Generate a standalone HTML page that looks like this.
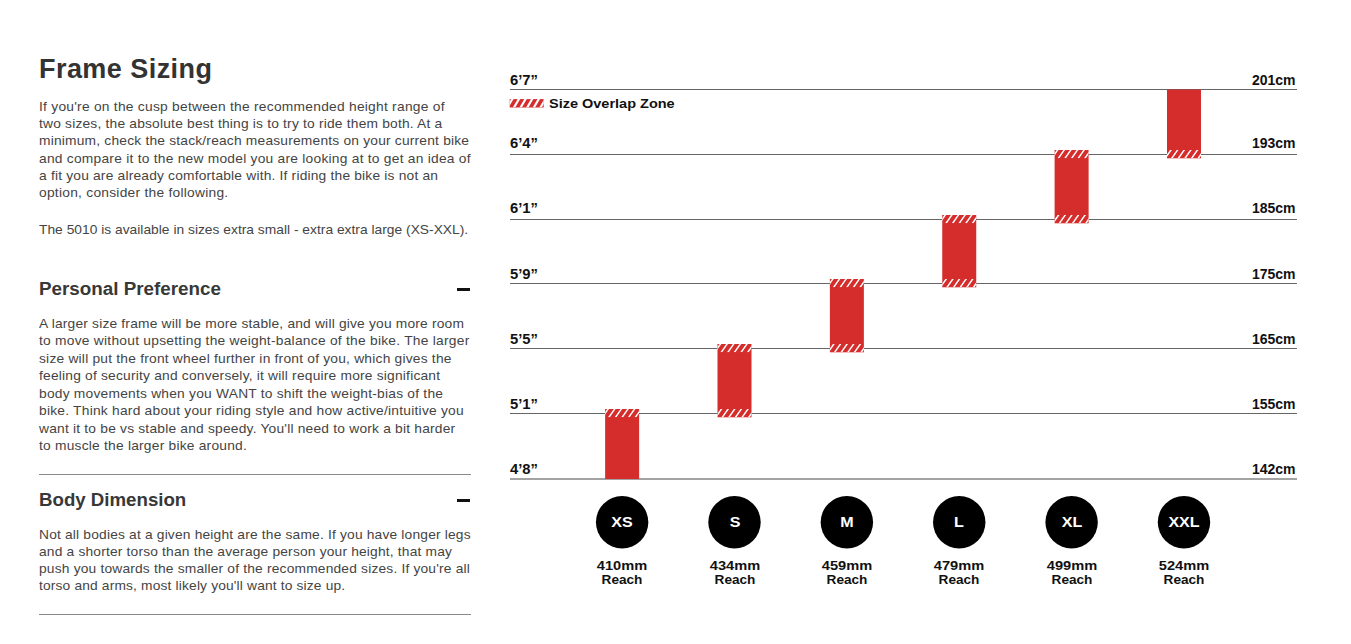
<!DOCTYPE html>
<html><head><meta charset="utf-8"><title>Frame Sizing</title>
<style>
html,body{margin:0;padding:0;background:#fff;width:1351px;height:644px;overflow:hidden}
body{position:relative;font-family:"Liberation Sans", sans-serif}
.t{position:absolute;white-space:nowrap}
</style></head><body>
<div class="t" style="left:39px;top:52.64px;font-size:27px;line-height:32.40px;font-weight:700;color:#333;letter-spacing:0.45px;">Frame Sizing</div><div class="t" style="left:39px;top:98.60px;font-size:13px;line-height:15.60px;font-weight:400;color:#444;letter-spacing:0.239px;transform:scaleX(1.06);transform-origin:0 0;">If you&#39;re on the cusp between the recommended height range of</div><div class="t" style="left:39px;top:115.90px;font-size:13px;line-height:15.60px;font-weight:400;color:#444;letter-spacing:0.188px;transform:scaleX(1.06);transform-origin:0 0;">two sizes, the absolute best thing is to try to ride them both. At a</div><div class="t" style="left:39px;top:133.20px;font-size:13px;line-height:15.60px;font-weight:400;color:#444;letter-spacing:0.189px;transform:scaleX(1.06);transform-origin:0 0;">minimum, check the stack/reach measurements on your current bike</div><div class="t" style="left:39px;top:150.50px;font-size:13px;line-height:15.60px;font-weight:400;color:#444;letter-spacing:0.23px;transform:scaleX(1.06);transform-origin:0 0;">and compare it to the new model you are looking at to get an idea of</div><div class="t" style="left:39px;top:167.80px;font-size:13px;line-height:15.60px;font-weight:400;color:#444;letter-spacing:0.182px;transform:scaleX(1.06);transform-origin:0 0;">a fit you are already comfortable with. If riding the bike is not an</div><div class="t" style="left:39px;top:185.10px;font-size:13px;line-height:15.60px;font-weight:400;color:#444;letter-spacing:0.24px;transform:scaleX(1.06);transform-origin:0 0;">option, consider the following.</div><div class="t" style="left:39px;top:222.10px;font-size:13px;line-height:15.60px;font-weight:400;color:#444;letter-spacing:0.014px;transform:scaleX(1.06);transform-origin:0 0;">The 5010 is available in sizes extra small - extra extra large (XS-XXL).</div><div class="t" style="left:39px;top:278.86px;font-size:18px;line-height:21.60px;font-weight:700;color:#383838;letter-spacing:0px;transform:scaleX(1.045);transform-origin:0 0;">Personal Preference</div><div class="t" style="left:39px;top:315.80px;font-size:13px;line-height:15.60px;font-weight:400;color:#444;letter-spacing:0.182px;transform:scaleX(1.06);transform-origin:0 0;">A larger size frame will be more stable, and will give you more room</div><div class="t" style="left:39px;top:333.29px;font-size:13px;line-height:15.60px;font-weight:400;color:#444;letter-spacing:0.237px;transform:scaleX(1.06);transform-origin:0 0;">to move without upsetting the weight-balance of the bike. The larger</div><div class="t" style="left:39px;top:350.78px;font-size:13px;line-height:15.60px;font-weight:400;color:#444;letter-spacing:0.204px;transform:scaleX(1.06);transform-origin:0 0;">size will put the front wheel further in front of you, which gives the</div><div class="t" style="left:39px;top:368.27px;font-size:13px;line-height:15.60px;font-weight:400;color:#444;letter-spacing:0.194px;transform:scaleX(1.06);transform-origin:0 0;">feeling of security and conversely, it will require more significant</div><div class="t" style="left:39px;top:385.76px;font-size:13px;line-height:15.60px;font-weight:400;color:#444;letter-spacing:0.213px;transform:scaleX(1.06);transform-origin:0 0;">body movements when you WANT to shift the weight-bias of the</div><div class="t" style="left:39px;top:403.25px;font-size:13px;line-height:15.60px;font-weight:400;color:#444;letter-spacing:0.22px;transform:scaleX(1.06);transform-origin:0 0;">bike. Think hard about your riding style and how active/intuitive you</div><div class="t" style="left:39px;top:420.74px;font-size:13px;line-height:15.60px;font-weight:400;color:#444;letter-spacing:0.196px;transform:scaleX(1.06);transform-origin:0 0;">want it to be vs stable and speedy. You&#39;ll need to work a bit harder</div><div class="t" style="left:39px;top:438.23px;font-size:13px;line-height:15.60px;font-weight:400;color:#444;letter-spacing:0.209px;transform:scaleX(1.06);transform-origin:0 0;">to muscle the larger bike around.</div><div class="t" style="left:39px;top:489.96px;font-size:18px;line-height:21.60px;font-weight:700;color:#383838;letter-spacing:0px;transform:scaleX(1.037);transform-origin:0 0;">Body Dimension</div><div class="t" style="left:39px;top:526.60px;font-size:13px;line-height:15.60px;font-weight:400;color:#444;letter-spacing:0.172px;transform:scaleX(1.06);transform-origin:0 0;">Not all bodies at a given height are the same. If you have longer legs</div><div class="t" style="left:39px;top:543.80px;font-size:13px;line-height:15.60px;font-weight:400;color:#444;letter-spacing:0.17px;transform:scaleX(1.06);transform-origin:0 0;">and a shorter torso than the average person your height, that may</div><div class="t" style="left:39px;top:561.00px;font-size:13px;line-height:15.60px;font-weight:400;color:#444;letter-spacing:0.173px;transform:scaleX(1.06);transform-origin:0 0;">push you towards the smaller of the recommended sizes. If you&#39;re all</div><div class="t" style="left:39px;top:578.20px;font-size:13px;line-height:15.60px;font-weight:400;color:#444;letter-spacing:0.149px;transform:scaleX(1.06);transform-origin:0 0;">torso and arms, most likely you&#39;ll want to size up.</div>

<div style="position:absolute;left:457px;top:288px;width:13px;height:2.6px;background:#111"></div>
<div style="position:absolute;left:457px;top:499px;width:13px;height:2.6px;background:#111"></div>
<div style="position:absolute;left:39px;top:474px;width:432px;height:1px;background:#8a8a8a"></div>
<div style="position:absolute;left:39px;top:614px;width:432px;height:1px;background:#8a8a8a"></div>

<svg width="1351" height="644" style="position:absolute;left:0;top:0"><defs></defs><rect x="510" y="89" width="787" height="1" fill="#666"/><rect x="510" y="154" width="787" height="1" fill="#666"/><rect x="510" y="219" width="787" height="1" fill="#666"/><rect x="510" y="283" width="787" height="1" fill="#666"/><rect x="510" y="348" width="787" height="1" fill="#666"/><rect x="510" y="413" width="787" height="1" fill="#666"/><rect x="510" y="478" width="787" height="2" fill="#a3a3a3"/><rect x="605.13" y="409.00" width="34" height="70.00" fill="#d42d2c"/><clipPath id="c11"><rect x="605.13" y="409.00" width="34" height="8.30"/></clipPath><g clip-path="url(#c11)"><polygon points="594.79,417.31 596.59,417.30 602.39,409.00 600.59,409.00" fill="#fff"/><polygon points="601.41,417.31 603.21,417.30 609.01,409.00 607.21,409.00" fill="#fff"/><polygon points="608.03,417.31 609.83,417.30 615.63,409.00 613.83,409.00" fill="#fff"/><polygon points="614.65,417.31 616.45,417.30 622.25,409.00 620.45,409.00" fill="#fff"/><polygon points="621.27,417.31 623.07,417.30 628.87,409.00 627.07,409.00" fill="#fff"/><polygon points="627.89,417.31 629.69,417.30 635.49,409.00 633.69,409.00" fill="#fff"/><polygon points="634.51,417.31 636.31,417.30 642.11,409.00 640.31,409.00" fill="#fff"/><polygon points="641.13,417.31 642.93,417.30 648.73,409.00 646.93,409.00" fill="#fff"/><polygon points="647.75,417.31 649.55,417.30 655.35,409.00 653.55,409.00" fill="#fff"/></g><rect x="717.50" y="344.00" width="34" height="73.30" fill="#d42d2c"/><clipPath id="c13"><rect x="717.50" y="344.00" width="34" height="8.30"/></clipPath><g clip-path="url(#c13)"><polygon points="707.16,352.31 708.96,352.30 714.76,344.00 712.96,344.00" fill="#fff"/><polygon points="713.78,352.31 715.58,352.30 721.38,344.00 719.58,344.00" fill="#fff"/><polygon points="720.40,352.31 722.20,352.30 728.00,344.00 726.20,344.00" fill="#fff"/><polygon points="727.02,352.31 728.82,352.30 734.62,344.00 732.82,344.00" fill="#fff"/><polygon points="733.64,352.31 735.44,352.30 741.24,344.00 739.44,344.00" fill="#fff"/><polygon points="740.26,352.31 742.06,352.30 747.86,344.00 746.06,344.00" fill="#fff"/><polygon points="746.88,352.31 748.68,352.30 754.48,344.00 752.68,344.00" fill="#fff"/><polygon points="753.50,352.31 755.30,352.30 761.10,344.00 759.30,344.00" fill="#fff"/><polygon points="760.12,352.31 761.92,352.30 767.72,344.00 765.92,344.00" fill="#fff"/></g><clipPath id="c14"><rect x="717.50" y="409.00" width="34" height="8.30"/></clipPath><g clip-path="url(#c14)"><polygon points="701.56,417.31 703.36,417.30 709.16,409.00 707.36,409.00" fill="#fff"/><polygon points="708.18,417.31 709.98,417.30 715.78,409.00 713.98,409.00" fill="#fff"/><polygon points="714.80,417.31 716.60,417.30 722.40,409.00 720.60,409.00" fill="#fff"/><polygon points="721.42,417.31 723.22,417.30 729.02,409.00 727.22,409.00" fill="#fff"/><polygon points="728.04,417.31 729.84,417.30 735.64,409.00 733.84,409.00" fill="#fff"/><polygon points="734.66,417.31 736.46,417.30 742.26,409.00 740.46,409.00" fill="#fff"/><polygon points="741.28,417.31 743.08,417.30 748.88,409.00 747.08,409.00" fill="#fff"/><polygon points="747.90,417.31 749.70,417.30 755.50,409.00 753.70,409.00" fill="#fff"/><polygon points="754.52,417.31 756.32,417.30 762.12,409.00 760.32,409.00" fill="#fff"/></g><rect x="829.87" y="279.00" width="34" height="73.30" fill="#d42d2c"/><clipPath id="c16"><rect x="829.87" y="279.00" width="34" height="8.30"/></clipPath><g clip-path="url(#c16)"><polygon points="819.53,287.31 821.33,287.30 827.13,279.00 825.33,279.00" fill="#fff"/><polygon points="826.15,287.31 827.95,287.30 833.75,279.00 831.95,279.00" fill="#fff"/><polygon points="832.77,287.31 834.57,287.30 840.37,279.00 838.57,279.00" fill="#fff"/><polygon points="839.39,287.31 841.19,287.30 846.99,279.00 845.19,279.00" fill="#fff"/><polygon points="846.01,287.31 847.81,287.30 853.61,279.00 851.81,279.00" fill="#fff"/><polygon points="852.63,287.31 854.43,287.30 860.23,279.00 858.43,279.00" fill="#fff"/><polygon points="859.25,287.31 861.05,287.30 866.85,279.00 865.05,279.00" fill="#fff"/><polygon points="865.87,287.31 867.67,287.30 873.47,279.00 871.67,279.00" fill="#fff"/><polygon points="872.49,287.31 874.29,287.30 880.09,279.00 878.29,279.00" fill="#fff"/></g><clipPath id="c17"><rect x="829.87" y="344.00" width="34" height="8.30"/></clipPath><g clip-path="url(#c17)"><polygon points="813.93,352.31 815.73,352.30 821.53,344.00 819.73,344.00" fill="#fff"/><polygon points="820.55,352.31 822.35,352.30 828.15,344.00 826.35,344.00" fill="#fff"/><polygon points="827.17,352.31 828.97,352.30 834.77,344.00 832.97,344.00" fill="#fff"/><polygon points="833.79,352.31 835.59,352.30 841.39,344.00 839.59,344.00" fill="#fff"/><polygon points="840.41,352.31 842.21,352.30 848.01,344.00 846.21,344.00" fill="#fff"/><polygon points="847.03,352.31 848.83,352.30 854.63,344.00 852.83,344.00" fill="#fff"/><polygon points="853.65,352.31 855.45,352.30 861.25,344.00 859.45,344.00" fill="#fff"/><polygon points="860.27,352.31 862.07,352.30 867.87,344.00 866.07,344.00" fill="#fff"/><polygon points="866.89,352.31 868.69,352.30 874.49,344.00 872.69,344.00" fill="#fff"/></g><rect x="942.24" y="215.00" width="34" height="72.30" fill="#d42d2c"/><clipPath id="c19"><rect x="942.24" y="215.00" width="34" height="8.30"/></clipPath><g clip-path="url(#c19)"><polygon points="931.90,223.31 933.70,223.30 939.50,215.00 937.70,215.00" fill="#fff"/><polygon points="938.52,223.31 940.32,223.30 946.12,215.00 944.32,215.00" fill="#fff"/><polygon points="945.14,223.31 946.94,223.30 952.74,215.00 950.94,215.00" fill="#fff"/><polygon points="951.76,223.31 953.56,223.30 959.36,215.00 957.56,215.00" fill="#fff"/><polygon points="958.38,223.31 960.18,223.30 965.98,215.00 964.18,215.00" fill="#fff"/><polygon points="965.00,223.31 966.80,223.30 972.60,215.00 970.80,215.00" fill="#fff"/><polygon points="971.62,223.31 973.42,223.30 979.22,215.00 977.42,215.00" fill="#fff"/><polygon points="978.24,223.31 980.04,223.30 985.84,215.00 984.04,215.00" fill="#fff"/><polygon points="984.86,223.31 986.66,223.30 992.46,215.00 990.66,215.00" fill="#fff"/></g><clipPath id="c20"><rect x="942.24" y="279.00" width="34" height="8.30"/></clipPath><g clip-path="url(#c20)"><polygon points="926.30,287.31 928.10,287.30 933.90,279.00 932.10,279.00" fill="#fff"/><polygon points="932.92,287.31 934.72,287.30 940.52,279.00 938.72,279.00" fill="#fff"/><polygon points="939.54,287.31 941.34,287.30 947.14,279.00 945.34,279.00" fill="#fff"/><polygon points="946.16,287.31 947.96,287.30 953.76,279.00 951.96,279.00" fill="#fff"/><polygon points="952.78,287.31 954.58,287.30 960.38,279.00 958.58,279.00" fill="#fff"/><polygon points="959.40,287.31 961.20,287.30 967.00,279.00 965.20,279.00" fill="#fff"/><polygon points="966.02,287.31 967.82,287.30 973.62,279.00 971.82,279.00" fill="#fff"/><polygon points="972.64,287.31 974.44,287.30 980.24,279.00 978.44,279.00" fill="#fff"/><polygon points="979.26,287.31 981.06,287.30 986.86,279.00 985.06,279.00" fill="#fff"/></g><rect x="1054.61" y="150.00" width="34" height="73.30" fill="#d42d2c"/><clipPath id="c22"><rect x="1054.61" y="150.00" width="34" height="8.30"/></clipPath><g clip-path="url(#c22)"><polygon points="1044.27,158.31 1046.07,158.30 1051.87,150.00 1050.07,150.00" fill="#fff"/><polygon points="1050.89,158.31 1052.69,158.30 1058.49,150.00 1056.69,150.00" fill="#fff"/><polygon points="1057.51,158.31 1059.31,158.30 1065.11,150.00 1063.31,150.00" fill="#fff"/><polygon points="1064.13,158.31 1065.93,158.30 1071.73,150.00 1069.93,150.00" fill="#fff"/><polygon points="1070.75,158.31 1072.55,158.30 1078.35,150.00 1076.55,150.00" fill="#fff"/><polygon points="1077.37,158.31 1079.17,158.30 1084.97,150.00 1083.17,150.00" fill="#fff"/><polygon points="1083.99,158.31 1085.79,158.30 1091.59,150.00 1089.79,150.00" fill="#fff"/><polygon points="1090.61,158.31 1092.41,158.30 1098.21,150.00 1096.41,150.00" fill="#fff"/><polygon points="1097.23,158.31 1099.03,158.30 1104.83,150.00 1103.03,150.00" fill="#fff"/></g><clipPath id="c23"><rect x="1054.61" y="215.00" width="34" height="8.30"/></clipPath><g clip-path="url(#c23)"><polygon points="1038.67,223.31 1040.47,223.30 1046.27,215.00 1044.47,215.00" fill="#fff"/><polygon points="1045.29,223.31 1047.09,223.30 1052.89,215.00 1051.09,215.00" fill="#fff"/><polygon points="1051.91,223.31 1053.71,223.30 1059.51,215.00 1057.71,215.00" fill="#fff"/><polygon points="1058.53,223.31 1060.33,223.30 1066.13,215.00 1064.33,215.00" fill="#fff"/><polygon points="1065.15,223.31 1066.95,223.30 1072.75,215.00 1070.95,215.00" fill="#fff"/><polygon points="1071.77,223.31 1073.57,223.30 1079.37,215.00 1077.57,215.00" fill="#fff"/><polygon points="1078.39,223.31 1080.19,223.30 1085.99,215.00 1084.19,215.00" fill="#fff"/><polygon points="1085.01,223.31 1086.81,223.30 1092.61,215.00 1090.81,215.00" fill="#fff"/><polygon points="1091.63,223.31 1093.43,223.30 1099.23,215.00 1097.43,215.00" fill="#fff"/></g><rect x="1166.98" y="89.50" width="34" height="68.80" fill="#d42d2c"/><clipPath id="c25"><rect x="1166.98" y="150.00" width="34" height="8.30"/></clipPath><g clip-path="url(#c25)"><polygon points="1151.04,158.31 1152.84,158.30 1158.64,150.00 1156.84,150.00" fill="#fff"/><polygon points="1157.66,158.31 1159.46,158.30 1165.26,150.00 1163.46,150.00" fill="#fff"/><polygon points="1164.28,158.31 1166.08,158.30 1171.88,150.00 1170.08,150.00" fill="#fff"/><polygon points="1170.90,158.31 1172.70,158.30 1178.50,150.00 1176.70,150.00" fill="#fff"/><polygon points="1177.52,158.31 1179.32,158.30 1185.12,150.00 1183.32,150.00" fill="#fff"/><polygon points="1184.14,158.31 1185.94,158.30 1191.74,150.00 1189.94,150.00" fill="#fff"/><polygon points="1190.76,158.31 1192.56,158.30 1198.36,150.00 1196.56,150.00" fill="#fff"/><polygon points="1197.38,158.31 1199.18,158.30 1204.98,150.00 1203.18,150.00" fill="#fff"/><polygon points="1204.00,158.31 1205.80,158.30 1211.60,150.00 1209.80,150.00" fill="#fff"/></g><rect x="509.7" y="99.1" width="34" height="8.4" fill="#d42d2c"/><clipPath id="c27"><rect x="509.70" y="99.10" width="34" height="8.40"/></clipPath><g clip-path="url(#c27)"><polygon points="499.51,107.51 502.01,107.50 506.97,99.10 504.47,99.10" fill="#fff"/><polygon points="506.13,107.51 508.63,107.50 513.59,99.10 511.09,99.10" fill="#fff"/><polygon points="512.75,107.51 515.25,107.50 520.21,99.10 517.71,99.10" fill="#fff"/><polygon points="519.37,107.51 521.87,107.50 526.83,99.10 524.33,99.10" fill="#fff"/><polygon points="525.99,107.51 528.49,107.50 533.45,99.10 530.95,99.10" fill="#fff"/><polygon points="532.61,107.51 535.11,107.50 540.07,99.10 537.57,99.10" fill="#fff"/><polygon points="539.23,107.51 541.73,107.50 546.69,99.10 544.19,99.10" fill="#fff"/><polygon points="545.85,107.51 548.35,107.50 553.31,99.10 550.81,99.10" fill="#fff"/><polygon points="552.47,107.51 554.97,107.50 559.93,99.10 557.43,99.10" fill="#fff"/></g><circle cx="622.13" cy="522.2" r="26.2" fill="#000"/><circle cx="734.50" cy="522.2" r="26.2" fill="#000"/><circle cx="846.87" cy="522.2" r="26.2" fill="#000"/><circle cx="959.24" cy="522.2" r="26.2" fill="#000"/><circle cx="1071.61" cy="522.2" r="26.2" fill="#000"/><circle cx="1183.98" cy="522.2" r="26.2" fill="#000"/></svg>
<div class="t" style="left:510px;top:71.85px;font-size:14px;line-height:16.80px;font-weight:700;color:#111;letter-spacing:0px;transform:scaleX(1.057);transform-origin:0 0">6&#8217;7&#8221;</div><div class="t" style="right:55.5px;top:71.85px;font-size:14px;line-height:16.80px;font-weight:700;color:#111;letter-spacing:0px;text-align:right;transform:scaleX(1.0);transform-origin:100% 0">201cm</div><div class="t" style="left:510px;top:134.65px;font-size:14px;line-height:16.80px;font-weight:700;color:#111;letter-spacing:0px;transform:scaleX(1.057);transform-origin:0 0">6&#8217;4&#8221;</div><div class="t" style="right:55.5px;top:134.65px;font-size:14px;line-height:16.80px;font-weight:700;color:#111;letter-spacing:0px;text-align:right;transform:scaleX(1.0);transform-origin:100% 0">193cm</div><div class="t" style="left:510px;top:199.65px;font-size:14px;line-height:16.80px;font-weight:700;color:#111;letter-spacing:0px;transform:scaleX(1.057);transform-origin:0 0">6&#8217;1&#8221;</div><div class="t" style="right:55.5px;top:199.65px;font-size:14px;line-height:16.80px;font-weight:700;color:#111;letter-spacing:0px;text-align:right;transform:scaleX(1.0);transform-origin:100% 0">185cm</div><div class="t" style="left:510px;top:265.65px;font-size:14px;line-height:16.80px;font-weight:700;color:#111;letter-spacing:0px;transform:scaleX(1.057);transform-origin:0 0">5&#8217;9&#8221;</div><div class="t" style="right:55.5px;top:265.65px;font-size:14px;line-height:16.80px;font-weight:700;color:#111;letter-spacing:0px;text-align:right;transform:scaleX(1.0);transform-origin:100% 0">175cm</div><div class="t" style="left:510px;top:330.65px;font-size:14px;line-height:16.80px;font-weight:700;color:#111;letter-spacing:0px;transform:scaleX(1.057);transform-origin:0 0">5&#8217;5&#8221;</div><div class="t" style="right:55.5px;top:330.65px;font-size:14px;line-height:16.80px;font-weight:700;color:#111;letter-spacing:0px;text-align:right;transform:scaleX(1.0);transform-origin:100% 0">165cm</div><div class="t" style="left:510px;top:395.75px;font-size:14px;line-height:16.80px;font-weight:700;color:#111;letter-spacing:0px;transform:scaleX(1.057);transform-origin:0 0">5&#8217;1&#8221;</div><div class="t" style="right:55.5px;top:395.75px;font-size:14px;line-height:16.80px;font-weight:700;color:#111;letter-spacing:0px;text-align:right;transform:scaleX(1.0);transform-origin:100% 0">155cm</div><div class="t" style="left:510px;top:461.15px;font-size:14px;line-height:16.80px;font-weight:700;color:#111;letter-spacing:0px;transform:scaleX(1.057);transform-origin:0 0">4&#8217;8&#8221;</div><div class="t" style="right:55.5px;top:461.15px;font-size:14px;line-height:16.80px;font-weight:700;color:#111;letter-spacing:0px;text-align:right;transform:scaleX(1.0);transform-origin:100% 0">142cm</div><div class="t" style="left:548.5px;top:95.50px;font-size:13px;line-height:15.60px;font-weight:700;color:#111;letter-spacing:0px;transform:scaleX(1.115);transform-origin:0 0">Size Overlap Zone</div><div class="t" style="left:562.13px;width:120px;top:514.08px;font-size:14.6px;line-height:17.52px;font-weight:700;color:#fff;letter-spacing:0px;text-align:center;text-indent:0px;transform:scaleX(1.1);transform-origin:50% 0">XS</div><div class="t" style="left:562.13px;width:120px;top:559.37px;font-size:12.5px;line-height:15.00px;font-weight:700;color:#111;letter-spacing:0px;text-align:center;text-indent:0px;transform:scaleX(1.17);transform-origin:50% 0">410mm</div><div class="t" style="left:562.13px;width:120px;top:573.17px;font-size:12.5px;line-height:15.00px;font-weight:700;color:#111;letter-spacing:0px;text-align:center;text-indent:0px;transform:scaleX(1.09);transform-origin:50% 0">Reach</div><div class="t" style="left:674.50px;width:120px;top:514.08px;font-size:14.6px;line-height:17.52px;font-weight:700;color:#fff;letter-spacing:0px;text-align:center;text-indent:0px;transform:scaleX(1.1);transform-origin:50% 0">S</div><div class="t" style="left:674.50px;width:120px;top:559.37px;font-size:12.5px;line-height:15.00px;font-weight:700;color:#111;letter-spacing:0px;text-align:center;text-indent:0px;transform:scaleX(1.17);transform-origin:50% 0">434mm</div><div class="t" style="left:674.50px;width:120px;top:573.17px;font-size:12.5px;line-height:15.00px;font-weight:700;color:#111;letter-spacing:0px;text-align:center;text-indent:0px;transform:scaleX(1.09);transform-origin:50% 0">Reach</div><div class="t" style="left:786.87px;width:120px;top:514.08px;font-size:14.6px;line-height:17.52px;font-weight:700;color:#fff;letter-spacing:0px;text-align:center;text-indent:0px;transform:scaleX(1.1);transform-origin:50% 0">M</div><div class="t" style="left:786.87px;width:120px;top:559.37px;font-size:12.5px;line-height:15.00px;font-weight:700;color:#111;letter-spacing:0px;text-align:center;text-indent:0px;transform:scaleX(1.17);transform-origin:50% 0">459mm</div><div class="t" style="left:786.87px;width:120px;top:573.17px;font-size:12.5px;line-height:15.00px;font-weight:700;color:#111;letter-spacing:0px;text-align:center;text-indent:0px;transform:scaleX(1.09);transform-origin:50% 0">Reach</div><div class="t" style="left:899.24px;width:120px;top:514.08px;font-size:14.6px;line-height:17.52px;font-weight:700;color:#fff;letter-spacing:0px;text-align:center;text-indent:0px;transform:scaleX(1.1);transform-origin:50% 0">L</div><div class="t" style="left:899.24px;width:120px;top:559.37px;font-size:12.5px;line-height:15.00px;font-weight:700;color:#111;letter-spacing:0px;text-align:center;text-indent:0px;transform:scaleX(1.17);transform-origin:50% 0">479mm</div><div class="t" style="left:899.24px;width:120px;top:573.17px;font-size:12.5px;line-height:15.00px;font-weight:700;color:#111;letter-spacing:0px;text-align:center;text-indent:0px;transform:scaleX(1.09);transform-origin:50% 0">Reach</div><div class="t" style="left:1011.61px;width:120px;top:514.08px;font-size:14.6px;line-height:17.52px;font-weight:700;color:#fff;letter-spacing:0px;text-align:center;text-indent:0px;transform:scaleX(1.1);transform-origin:50% 0">XL</div><div class="t" style="left:1011.61px;width:120px;top:559.37px;font-size:12.5px;line-height:15.00px;font-weight:700;color:#111;letter-spacing:0px;text-align:center;text-indent:0px;transform:scaleX(1.17);transform-origin:50% 0">499mm</div><div class="t" style="left:1011.61px;width:120px;top:573.17px;font-size:12.5px;line-height:15.00px;font-weight:700;color:#111;letter-spacing:0px;text-align:center;text-indent:0px;transform:scaleX(1.09);transform-origin:50% 0">Reach</div><div class="t" style="left:1123.98px;width:120px;top:514.08px;font-size:14.6px;line-height:17.52px;font-weight:700;color:#fff;letter-spacing:0px;text-align:center;text-indent:0px;transform:scaleX(1.1);transform-origin:50% 0">XXL</div><div class="t" style="left:1123.98px;width:120px;top:559.37px;font-size:12.5px;line-height:15.00px;font-weight:700;color:#111;letter-spacing:0px;text-align:center;text-indent:0px;transform:scaleX(1.17);transform-origin:50% 0">524mm</div><div class="t" style="left:1123.98px;width:120px;top:573.17px;font-size:12.5px;line-height:15.00px;font-weight:700;color:#111;letter-spacing:0px;text-align:center;text-indent:0px;transform:scaleX(1.09);transform-origin:50% 0">Reach</div>
</body></html>
